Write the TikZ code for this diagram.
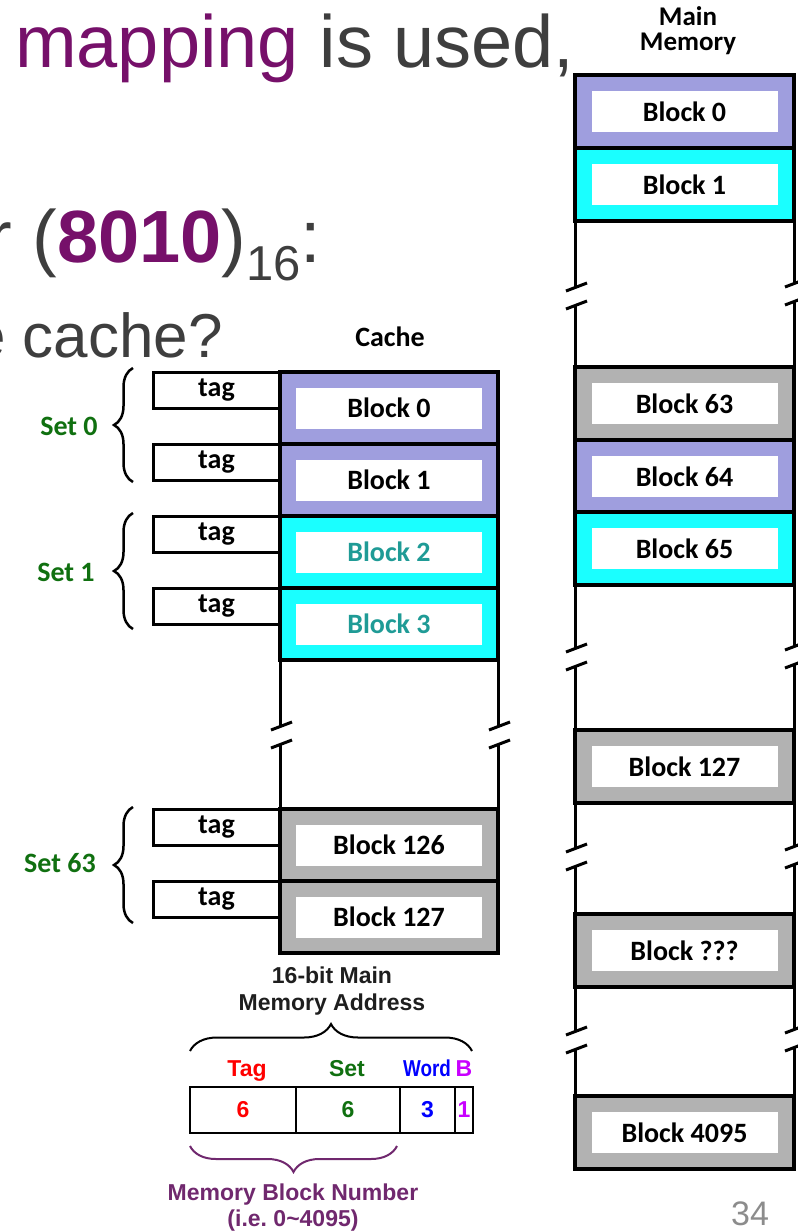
\documentclass[tikz,border=0pt]{standalone}
\usepackage{fontspec}
\usetikzlibrary{decorations.pathreplacing,calc}
\newfontfamily\arfont{Liberation Sans}
\newfontfamily\calfont{Carlito}
\newcommand\blkfont{\calfont\bfseries\fontsize{28}{30}\selectfont}
\newcommand\adrfont{\arfont\bfseries\fontsize{23}{26}\selectfont}
\definecolor{lav}{RGB}{159,158,222}
\definecolor{cyn}{RGB}{26,255,255}
\definecolor{gry}{RGB}{178,178,178}
\definecolor{ttl}{RGB}{118,16,106}
\definecolor{dgr}{RGB}{62,62,62}
\definecolor{sgreen}{RGB}{16,112,16}
\definecolor{tealtxt}{RGB}{31,155,150}
\definecolor{bpurp}{RGB}{112,40,110}
\definecolor{bmag}{RGB}{200,0,255}
\definecolor{pgnum}{RGB}{140,140,140}
\definecolor{adrtxt}{RGB}{30,30,30}
\newcommand\brkline[4]{%
  \draw[edge] (#1,#2) -- (#1,#3-9);
  \draw[edge] (#1,#3+9) -- (#1,#4);
  \draw[edge] (#1-9,#3-5) -- (#1+12,#3-13);
  \draw[edge] (#1-9,#3+13) -- (#1+12,#3+5);
}
\begin{document}
\begin{tikzpicture}[x=1pt,y=-1pt,
  cblk/.style={draw, line width=3.5pt, minimum width=218pt, minimum height=72pt, inner sep=0pt, outer sep=0pt, anchor=north west},
  mblk/.style={cblk, minimum width=219pt, minimum height=73pt},
  inbox/.style={fill=white, minimum width=186pt, minimum height=41pt, inner sep=0pt, font=\blkfont},
  tagbox/.style={draw, line width=3pt, minimum width=127pt, minimum height=36pt, inner sep=0pt, outer sep=0pt, anchor=north east, font=\blkfont},
  setlbl/.style={text=sgreen, font=\blkfont},
  edge/.style={line width=3pt},
  brc/.style={decorate, decoration={brace, amplitude=19pt}, line width=2.5pt},
  fld/.style={draw, line width=2.5pt, minimum height=46pt, inner sep=0pt, outer sep=0pt, anchor=north west, font=\adrfont},
  big/.style={anchor=base west, inner sep=0pt, text=dgr, font=\arfont\fontsize{74}{80}\selectfont}
]
\path[use as bounding box] (0,0) rectangle (798,1232);
\clip (0,0) rectangle (798,1232);

% title text
\node[big] (t1) at (15,67) {\textcolor{ttl}{mapping} is used,};
\node[big] (t2) at (-13,262) {r (\textcolor{ttl}{\bfseries 8010})\raisebox{-18pt}{\fontsize{49}{50}\selectfont 16}:};
\node[big, font=\arfont\fontsize{62}{66}\selectfont] (t3) at (-29,357) {e cache?};

% cache
\node[font=\blkfont] (cachelbl) at (390,337) {Cache};
\node[cblk, fill=lav] (c0) at (280,372) {};
\node[cblk, fill=lav] (c1) at (280,444) {};
\node[cblk, fill=cyn] (c2) at (280,516) {};
\node[cblk, fill=cyn] (c3) at (280,588) {};
\node[cblk, fill=gry] (c126) at (280,809) {};
\node[cblk, fill=gry] (c127) at (280,881) {};
\node[inbox] (c0t) at (c0.center) {Block 0};
\node[inbox] (c1t) at (c1.center) {Block 1};
\node[inbox, text=tealtxt] (c2t) at (c2.center) {Block 2};
\node[inbox, text=tealtxt] (c3t) at (c3.center) {Block 3};
\node[inbox] (c126t) at (c126.center) {Block 126};
\node[inbox] (c127t) at (c127.center) {Block 127};
\brkline{280}{660}{735}{809}
\brkline{498}{660}{735}{809}

% tags
\node[tagbox] (tg0) at (c0.north west) {tag};
\node[tagbox] (tg1) at (c1.north west) {tag};
\node[tagbox] (tg2) at (c2.north west) {tag};
\node[tagbox] (tg3) at (c3.north west) {tag};
\node[tagbox] (tg126) at (c126.north west) {tag};
\node[tagbox] (tg127) at (c127.north west) {tag};

% set braces
\draw[brc] (133,482) -- (133,368);
\draw[brc] (133,629) -- (133,513);
\draw[brc] (133,923) -- (133,807);
\node[setlbl] (s0) at (69,426) {Set 0};
\node[setlbl] (s1) at (66,572) {Set 1};
\node[setlbl] (s63) at (60,863) {Set 63};

% main memory
\node[align=center, font=\calfont\bfseries\fontsize{27}{25}\selectfont] (mmlbl) at (688,31) {Main\\Memory};
\node[mblk, fill=lav] (m0) at (575,75) {};
\node[mblk, fill=cyn] (m1) at (575,148) {};
\node[mblk, fill=gry] (m63) at (575,367) {};
\node[mblk, fill=lav] (m64) at (575,440) {};
\node[mblk, fill=cyn] (m65) at (575,512) {};
\node[mblk, fill=gry] (m127) at (575,730) {};
\node[mblk, fill=gry] (mq) at (575,914) {};
\node[mblk, fill=gry] (m4095) at (575,1096) {};
\node[inbox] (m0t) at (m0.center) {Block 0};
\node[inbox] (m1t) at (m1.center) {Block 1};
\node[inbox] (m63t) at (m63.center) {Block 63};
\node[inbox] (m64t) at (m64.center) {Block 64};
\node[inbox] (m65t) at (m65.center) {Block 65};
\node[inbox] (m127t) at (m127.center) {Block 127};
\node[inbox] (mqt) at (mq.center) {Block ???};
\node[inbox] (m4095t) at (m4095.center) {Block 4095};
\brkline{575}{221}{296}{367}
\brkline{794}{221}{292}{367}
\brkline{575}{585}{657}{730}
\brkline{794}{585}{655}{730}
\brkline{575}{803}{857}{914}
\brkline{794}{803}{855}{914}
\brkline{575}{987}{1040}{1096}
\brkline{794}{987}{1038}{1096}

% address format
\node[anchor=base, inner sep=0pt, font=\adrfont, text=adrtxt] (a1) at (332,983) {16-bit Main};
\node[anchor=base, inner sep=0pt, font=\adrfont, text=adrtxt] (a2) at (332,1010) {Memory Address};
\draw[decorate, decoration={brace, amplitude=27pt}, line width=2pt] (190,1051) -- (472,1051);
\node[anchor=base, inner sep=0pt, font=\adrfont, text=red] (lt) at (247,1076) {Tag};
\node[anchor=base, inner sep=0pt, font=\adrfont, text=sgreen] (ls) at (347,1076) {Set};
\node[anchor=base, inner sep=0pt, font=\adrfont, text=blue] (lw) at (427,1076) {\scalebox{0.82}[1]{Word}};
\node[anchor=base, inner sep=0pt, font=\adrfont, text=bmag] (lb) at (464,1076) {B};
\node[fld, minimum width=106pt, text=red] (f1) at (190,1087) {6};
\node[fld, minimum width=104pt, text=sgreen] (f2) at (f1.north east) {6};
\node[fld, minimum width=55pt, text=blue] (f3) at (f2.north east) {3};
\node[fld, minimum width=18pt, text=bmag] (f4) at (f3.north east) {1};
\draw[decorate, decoration={brace, amplitude=26pt}, line width=2pt, bpurp] (397,1146) -- (190,1146);
\node[anchor=base, inner sep=0pt, font=\adrfont, text=bpurp] (n1) at (293,1200) {Memory Block Number};
\node[anchor=base, inner sep=0pt, font=\adrfont, text=bpurp] (n2) at (293,1226) {(i.e.\ 0\textasciitilde 4095)};

% page number
\node[anchor=base, inner sep=0pt, text=pgnum, font=\arfont\fontsize{34}{40}\selectfont] (pg) at (750,1225) {34};
\end{tikzpicture}
\end{document}
